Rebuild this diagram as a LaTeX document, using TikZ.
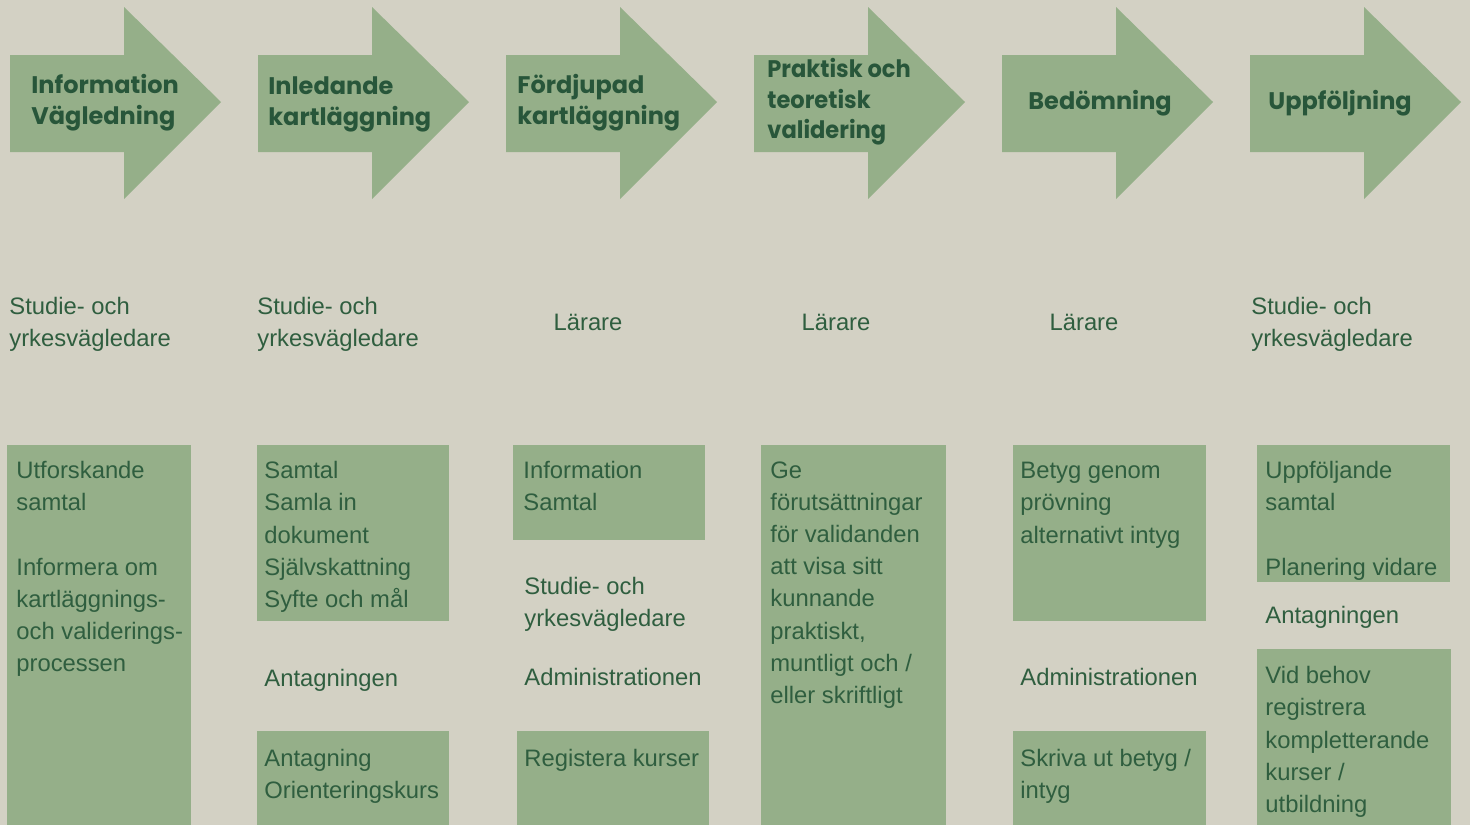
\documentclass[tikz,border=0pt]{standalone}
\usepackage{fontspec}
\setmainfont{Liberation Sans}
\newfontfamily\headfont{Poppins}
\newfontfamily\headnarrow{Poppins}[FakeStretch=0.94]
\definecolor{bg}{HTML}{D3D1C4}
\definecolor{leaf}{HTML}{95AF89}
\definecolor{ink}{HTML}{2F5E3F}
\definecolor{headink}{HTML}{28563A}
\begin{document}
\begin{tikzpicture}[x=0.5pt, y=-0.5pt,
    head/.style={anchor=north west, inner sep=0pt, align=left, text=headink,
      font=\headfont\bfseries\fontsize{12.0}{15.5}\selectfont},
    txt/.style={anchor=north west, inner sep=0pt, align=left, text=ink,
      font=\fontsize{11.9}{16.1}\selectfont},
    box/.style={fill=leaf}]
    \fill[bg](0,0)rectangle(1470,825);
    \useasboundingbox(0,0)rectangle(1470,825);
    \foreach \i in {0,...,5}
      \fill[leaf,xshift=\i*124pt](10,55)--(124,55)--(124,7)--(221,102)--(124,199)--(124,152)--(10,152)--cycle;
    \node[head](h1) at (31,74){Information\\Vägledning};
    \node[head](h2) at (268,76){Inledande\\kartläggning};
    \node[head](h3) at (517,74){Fördjupad\\kartläggning};
    \node[head,font=\headnarrow\bfseries\fontsize{12.0}{15.25}\selectfont](h4) at (767,58){Praktisk och\\teoretisk\\validering};
    \node[head](h5) at (1028,90){Bedömning};
    \node[head](h6) at (1268,90){Uppföljning};
    \node[txt](r1) at (9,297){Studie- och\\yrkesvägledare};
    \node[txt](r2) at (257,297){Studie- och\\yrkesvägledare};
    \node[txt,anchor=north](r3) at (588,314){Lärare};
    \node[txt,anchor=north](r4) at (836,314){Lärare};
    \node[txt,anchor=north](r5) at (1084,314){Lärare};
    \node[txt](r6) at (1251,297){Studie- och\\yrkesvägledare};
    \fill[box](7,445)rectangle(191,825);
    \node[txt](c1) at (16,461){Utforskande\\samtal\\~\\Informera om\\kartläggnings-\\och validerings-\\processen};
    \fill[box](257,445)rectangle(449,621);
    \node[txt](c2a) at (264,461){Samtal\\Samla in\\dokument\\Självskattning\\Syfte och mål};
    \node[txt](c2m) at (264,669){Antagningen};
    \fill[box](257,731)rectangle(449,825);
    \node[txt](c2b) at (264,749){Antagning\\Orienteringskurs};
    \fill[box](513,445)rectangle(705,540);
    \node[txt](c3a) at (523,461){Information\\Samtal};
    \node[txt](c3m) at (524,577){Studie- och\\yrkesvägledare};
    \node[txt](c3n) at (524,668){Administrationen};
    \fill[box](517,731)rectangle(709,825);
    \node[txt](c3b) at (524,749){Registera kurser};
    \fill[box](761,445)rectangle(946,825);
    \node[txt](c4) at (770,461){Ge\\förutsättningar\\för validanden\\att visa sitt\\kunnande\\praktiskt,\\muntligt och /\\eller skriftligt};
    \fill[box](1013,445)rectangle(1206,621);
    \node[txt](c5a) at (1020,462){Betyg genom\\prövning\\alternativt intyg};
    \node[txt](c5m) at (1020,668){Administrationen};
    \fill[box](1013,731)rectangle(1206,825);
    \node[txt](c5b) at (1020,749){Skriva ut betyg /\\intyg};
    \fill[box](1257,445)rectangle(1450,582);
    \node[txt](c6a) at (1265,461){Uppföljande\\samtal\\~\\Planering vidare};
    \node[txt](c6m) at (1265,606){Antagningen};
    \fill[box](1257,649)rectangle(1451,825);
    \node[txt](c6b) at (1265,666){Vid behov\\registrera\\kompletterande\\kurser /\\utbildning};
\end{tikzpicture}
\end{document}
